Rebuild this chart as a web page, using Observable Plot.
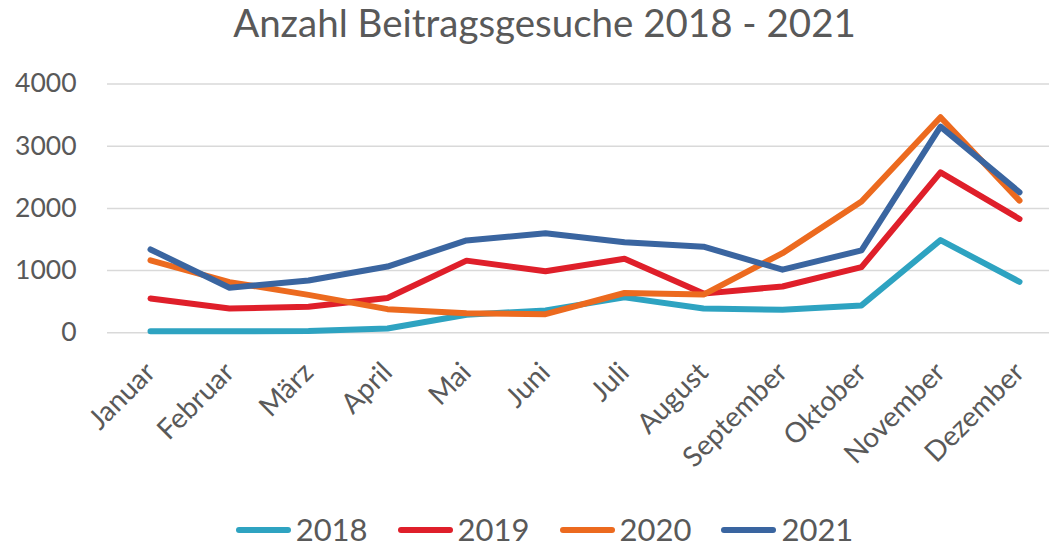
<!DOCTYPE html>
<html>
<head>
<meta charset="utf-8">
<script src="https://cdn.jsdelivr.net/npm/d3@7"></script>
<script src="https://cdn.jsdelivr.net/npm/@observablehq/plot@0.6"></script>
<style>
  html, body { margin: 0; padding: 0; background: #fff; }
  body { width: 1049px; height: 546px; overflow: hidden; font-family: Lato, "Open Sans", sans-serif; color: #595959; }
  #title { height: 60px; padding-top: 3px; padding-left: 40px; box-sizing: border-box; text-align: center; font-size: 38.5px; line-height: 38px; white-space: nowrap; }
  #chart svg { display: block; }
  #legend { height: 46px; box-sizing: border-box; padding-top: 12px; padding-left: 40px; text-align: center; font-size: 31px; line-height: 34px; white-space: nowrap; }
  .item { display: inline-block; margin: 0 15px; }
  .sw { display: inline-block; width: 55px; height: 6px; border-radius: 3px; vertical-align: middle; position: relative; top: -3px; margin-right: 5px; }
</style>
</head>
<body>
<div id="title"></div>
<div id="chart"></div>
<div id="legend"></div>
<script>
const titleText = "Anzahl Beitragsgesuche 2018 - 2021";
const months = ["Januar", "Februar", "März", "April", "Mai", "Juni", "Juli", "August", "September", "Oktober", "November", "Dezember"];
const seriesNames = ["2018", "2019", "2020", "2021"];
const values2018 = [25, 25, 30, 70, 290, 360, 570, 390, 370, 440, 1490, 820];
const values2019 = [550, 390, 420, 560, 1160, 990, 1190, 630, 745, 1055, 2580, 1830];
const values2020 = [1165, 815, 610, 380, 315, 300, 640, 615, 1280, 2110, 3465, 2125];
const values2021 = [1340, 725, 840, 1065, 1485, 1600, 1455, 1385, 1015, 1325, 3315, 2260];
const yTicks = [0, 1000, 2000, 3000, 4000];
const colors = ["#2EA3C1", "#DF1F2A", "#EC6A1F", "#3A65A0"];

const allValues = [values2018, values2019, values2020, values2021];

document.getElementById("title").textContent = titleText;

const lineMarks = allValues.map((vals, s) =>
  Plot.lineY(vals, {
    x: (d, i) => months[i],
    y: d => d,
    stroke: colors[s],
    strokeWidth: 6,
    strokeLinecap: "round",
    strokeLinejoin: "round"
  })
);

const chart = Plot.plot({
  width: 1049,
  height: 440,
  marginLeft: 107,
  marginRight: 0,
  marginTop: 23.5,
  marginBottom: 167.7,
  style: { fontFamily: "Lato, 'Open Sans', sans-serif", color: "#595959", background: "transparent" },
  x: { type: "point", domain: months, range: [146.7, 1023], padding: 0 },
  y: { domain: [0, 4000] },
  marks: [
    Plot.ruleY(yTicks, { stroke: "#d9d9d9", strokeWidth: 1.5 }),
    Plot.axisY(yTicks, { tickSize: 0, tickPadding: 31, fontSize: 26.5, label: null, tickFormat: d => String(d) }),
    Plot.axisX({ tickSize: 0, tickRotate: -45, tickPadding: 35, fontSize: 28, label: null }),
    ...lineMarks
  ]
});
document.getElementById("chart").appendChild(chart);

const legend = document.getElementById("legend");
seriesNames.forEach((name, s) => {
  const item = document.createElement("span");
  item.className = "item";
  const sw = document.createElement("span");
  sw.className = "sw";
  sw.style.background = colors[s];
  item.appendChild(sw);
  item.appendChild(document.createTextNode(name));
  legend.appendChild(item);
});
</script>
</body>
</html>
